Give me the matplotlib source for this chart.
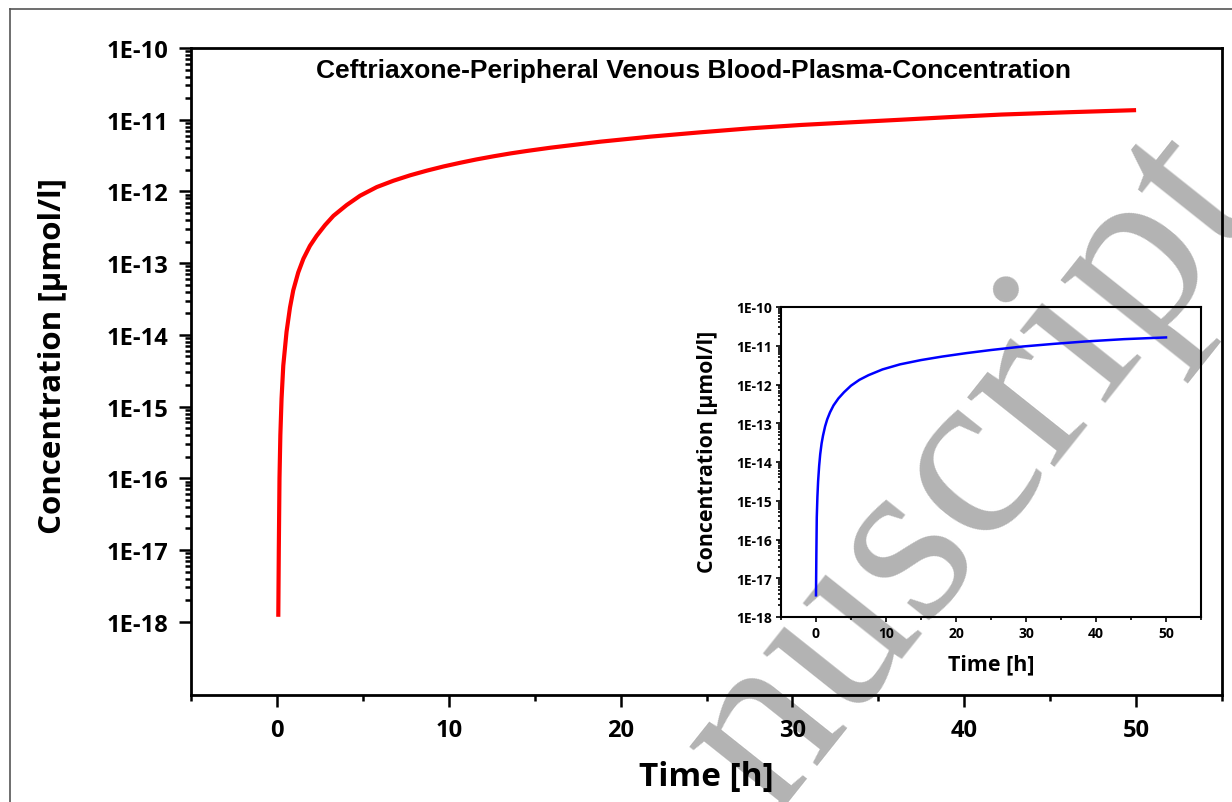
import matplotlib
matplotlib.use("Agg")
import matplotlib.pyplot as plt
from matplotlib.ticker import FixedLocator, FixedFormatter, NullFormatter
from matplotlib.lines import Line2D

# ---- data ----
main_time = [0.08, 0.11, 0.15, 0.20, 0.27, 0.37, 0.56, 0.76, 0.95, 1.24, 1.54,
             1.92, 2.31, 2.80, 3.29, 4.06, 4.84, 5.81, 6.78, 7.76, 8.73, 9.70,
             10.67, 11.6, 12.61, 13.6, 14.56, 15.92, 18.83, 21.75, 24.67, 27.58,
             30.5, 33.41, 36.33, 39.24, 42.16, 46.0, 50.0]
main_conc = [1.17e-18, 1.0e-17, 1.0e-16, 4.0e-16, 1.29e-15, 3.72e-15, 1.10e-14,
             2.40e-14, 4.17e-14, 7.41e-14, 1.15e-13, 1.74e-13, 2.40e-13,
             3.39e-13, 4.57e-13, 6.46e-13, 8.71e-13, 1.15e-12, 1.41e-12,
             1.68e-12, 1.95e-12, 2.23e-12, 2.51e-12, 2.79e-12, 3.09e-12,
             3.39e-12, 3.67e-12, 4.07e-12, 4.94e-12, 5.81e-12, 6.68e-12,
             7.60e-12, 8.45e-12, 9.20e-12, 1.00e-11, 1.09e-11, 1.18e-11,
             1.27e-11, 1.36e-11]

inset_time = [0.0, 0.02, 0.05, 0.11, 0.2, 0.3, 0.45, 0.6, 0.8, 1.0, 1.3, 1.6,
              2.0, 2.5, 3.2, 4.0, 5.0, 6.2, 7.5, 9.5, 12.0, 15.0, 18.0, 21.5,
              25.0, 29.5, 34.0, 38.5, 44.0, 50.0]
inset_conc = [3.63e-18, 1.0e-17, 3.98e-17, 3.72e-16, 1.26e-15, 3.16e-15,
              7.94e-15, 1.58e-14, 3.02e-14, 4.79e-14, 8.32e-14, 1.26e-13,
              1.91e-13, 2.88e-13, 4.37e-13, 6.31e-13, 9.33e-13, 1.32e-12,
              1.74e-12, 2.45e-12, 3.31e-12, 4.27e-12, 5.25e-12, 6.46e-12,
              7.76e-12, 9.55e-12, 1.12e-11, 1.29e-11, 1.48e-11, 1.64e-11]

decade_ticks = [1e-18, 1e-17, 1e-16, 1e-15, 1e-14, 1e-13, 1e-12, 1e-11, 1e-10]
decade_labels = ["1E-18", "1E-17", "1E-16", "1E-15", "1E-14", "1E-13",
                 "1E-12", "1E-11", "1E-10"]
minor_subs = [2, 3, 4, 5, 6, 7, 8, 9]
x_major = [0, 10, 20, 30, 40, 50]
x_minor = [-5, 5, 15, 25, 35, 45, 55]

title_text = "Ceftriaxone-Peripheral Venous Blood-Plasma-Concentration"
ylabel_text = "Concentration [\u00b5mol/l]"
xlabel_text = "Time [h]"
watermark_text = "nuscript"

W, H = 1232, 803
fig = plt.figure(figsize=(W / 100, H / 100), dpi=100)
fig.patch.set_facecolor("white")

FONT = "Open Sans"


def px_x(x):
    return x / W


def px_y(y):
    return 1 - y / H


# outer border (thin gray)
fig.add_artist(Line2D([px_x(10), px_x(10)], [px_y(10), 0], transform=fig.transFigure,
                      color="#555555", lw=1.2, zorder=-5))
fig.add_artist(Line2D([px_x(10), 1], [px_y(10), px_y(10)], transform=fig.transFigure,
                      color="#555555", lw=1.2, zorder=-5))

# watermark (baseline start of the visible part)
fig.text(px_x(772), px_y(817), watermark_text, fontsize=176, family="Liberation Serif",
         color="#b3b3b3", rotation=51.5, rotation_mode="anchor", ha="left",
         va="baseline", zorder=-2)

minor_vals = [d * s for d in decade_ticks[:-1] for s in minor_subs]


def style_axes(ax, lw, major_len, minor_len, tick_w, label_size, pad):
    ax.set_facecolor("none")
    for sp in ax.spines.values():
        sp.set_linewidth(lw)
        sp.set_color("black")
    ax.set_yscale("log")
    ax.yaxis.set_major_locator(FixedLocator(decade_ticks))
    ax.yaxis.set_major_formatter(FixedFormatter(decade_labels))
    ax.yaxis.set_minor_locator(FixedLocator(minor_vals))
    ax.yaxis.set_minor_formatter(NullFormatter())
    ax.xaxis.set_major_locator(FixedLocator(x_major))
    ax.xaxis.set_minor_locator(FixedLocator(x_minor))
    ax.tick_params(which="major", direction="out", length=major_len, width=tick_w,
                   labelsize=label_size, pad=pad, top=False, right=False)
    ax.tick_params(which="minor", direction="out", length=minor_len, width=tick_w,
                   top=False, right=False)
    for lab in ax.get_xticklabels() + ax.get_yticklabels():
        lab.set_fontfamily(FONT)
        lab.set_fontweight("bold")


# main axes
ax = fig.add_axes([px_x(191), px_y(696), px_x(1222) - px_x(191), px_y(49) - px_y(696)])
ax.plot(main_time, main_conc, color="#ff0000", lw=3.0, solid_capstyle="butt",
        solid_joinstyle="round", zorder=3)
ax.set_xlim(-5, 55)
ax.set_ylim(9.5e-20, 1e-10)
style_axes(ax, 2.0, 8.5, 4.0, 1.8, 17, 8)
ax.set_ylabel(ylabel_text, fontsize=22.5, fontweight="bold", family=FONT)
ax.yaxis.set_label_coords(-0.119, 0.5255)
ax.set_xlabel(xlabel_text, fontsize=24, fontweight="bold", family=FONT, labelpad=13)
ax.text(0.487, 0.966, title_text, transform=ax.transAxes, ha="center", va="center",
        fontsize=19, fontweight="bold", family="Liberation Sans")

# inset axes
axi = fig.add_axes([px_x(781), px_y(618), px_x(1201) - px_x(781), px_y(308) - px_y(618)])
axi.plot(inset_time, inset_conc, color="#0000ff", lw=1.8, solid_joinstyle="round",
         zorder=3)
axi.set_xlim(-5, 55)
axi.set_ylim(1e-18, 1e-10)
style_axes(axi, 1.5, 3.5, 2.0, 1.2, 10, 3)
axi.set_ylabel(ylabel_text, fontsize=15.3, fontweight="bold", family=FONT)
axi.yaxis.set_label_coords(-0.150, 0.535)
axi.set_xlabel(xlabel_text, fontsize=15.5, fontweight="bold", family=FONT, labelpad=10)

fig.savefig("out.png", dpi=100)
